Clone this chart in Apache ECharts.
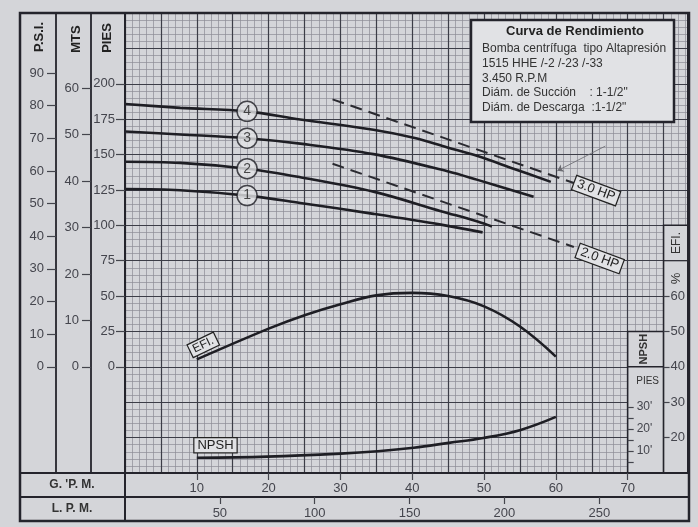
<!DOCTYPE html>
<html><head><meta charset="utf-8">
<script src="https://cdn.jsdelivr.net/npm/echarts@6/dist/echarts.min.js"></script>
<style>html,body{margin:0;padding:0;background:#d4d5d9;}#c{width:698px;height:527px;}</style>
</head><body><div id="c"></div>
<script>
// ---------------- data ----------------
const gpmTicks = [10, 20, 30, 40, 50, 60, 70];
const lpmTicks = [50, 100, 150, 200, 250];
const psiTicks = [0, 10, 20, 30, 40, 50, 60, 70, 80, 90];
const mtsTicks = [0, 10, 20, 30, 40, 50, 60];
const piesTicks = [0, 25, 50, 75, 100, 125, 150, 175, 200];
const efiTicks = [20, 30, 40, 50, 60];
const npshTicks = [5, 10, 15, 20, 25, 30];
const npshLabelTicks = [10, 20, 30];

// head curves: [GPM, PIES]
const curve1 = [[0,125.6],[7.7,124.8],[17,121],[24.4,115.8],[34.6,108.1],[44,100.5],[49.8,95]];
const curve2 = [[0,144.9],[7.7,144.1],[17,140],[24.4,134],[34.6,123.8],[44,110],[49.1,102.7],[51.1,99.2]];
const curve3 = [[0,166.3],[7.7,164.2],[17,161.5],[24.4,157.7],[34.6,150.3],[44.9,138.2],[49.1,132.1],[56.9,120.2]];
const curve4 = [[0,185.7],[7.7,183.0],[17,180.5],[24.4,174.8],[34.6,167.5],[40.2,161.8],[44.9,155.0],[49.1,148.9],[54.1,140],[59.3,130.7]];
const curveNames = ['1', '2', '3', '4'];
const curveLabelGpm = 17;

// power lines: [GPM, PIES]
const hp3 = [[28.9,189.0],[62.5,129.9]];
const hp2 = [[28.9,143.5],[62.5,84.7]];
const hpNames = ['3.0 HP', '2.0 HP'];

// efficiency (%)
const efiGpm = [10, 20, 25, 30, 35, 40, 45, 50, 55, 60];
const efiPct = [42.1, 50.8, 54.6, 57.7, 60.2, 60.9, 60.0, 57.1, 51.4, 42.9];

// NPSH (ft)
const npshGpm = [10, 19.8, 30, 35.2, 40.2, 45.1, 49.9, 55.1, 60];
const npshFt = [6.9, 7.45, 8.8, 9.9, 11.5, 13.7, 15.9, 19.6, 25.5];

// ---------------- layout / scales ----------------
const G = {left: 125, top: 13, width: 563, height: 460};
const X_MAX = 78.4, Y_MIN = -75, Y_MAX = 250;
const FT_PER_PSI = 2.307, FT_PER_M = 3.281, LPM_PER_GPM = 3.785;
const NPSH_MAX = G.height / 2.2;
const EFI_MIN = 40 + Y_MIN * 0.4, EFI_MAX = 40 + Y_MAX * 0.4;
const xPix = g => G.left + g * G.width / X_MAX;
const RIGHT = G.left + G.width;

const FONT = '"Liberation Sans", Arial, sans-serif';
const INK = '#24242c';
const LBL = '#44454d';
const PAPER = '#d4d5d9';
const BOX = '#e1e2e5';
const MAJOR = '#3c3d47';
const MINOR = '#8c8d95';

function hidden(extra) {
  return Object.assign({type: 'value', axisLine: {show: false, onZero: false}, axisTick: {show: false},
    axisLabel: {show: false}, splitLine: {show: false}}, extra);
}
function sideY(pos, offset, min, max, ticks, labels, extra) {
  return Object.assign({
    type: 'value', position: pos, offset: offset, min: min, max: max, z: 6,
    axisLine: {show: true, onZero: false, lineStyle: {color: INK, width: 1.8}},
    axisTick: {show: true, length: 9, customValues: ticks, lineStyle: {color: LBL, width: 1.2}},
    axisLabel: {show: true, customValues: labels || ticks, margin: 12, color: LBL, fontSize: 13, fontFamily: FONT},
    splitLine: {show: false}
  }, extra || {});
}

const lineStyleHead = {color: '#1e1e24', width: 2.6};
function headSeries(data) {
  return {type: 'line', data: data, smooth: 0.35, symbol: 'none', xAxisIndex: 0, yAxisIndex: 0,
    lineStyle: lineStyleHead, z: 4, silent: true};
}

const option = {
  animation: false,
  backgroundColor: PAPER,
  textStyle: {fontFamily: FONT},
  grid: {left: G.left, top: G.top, width: G.width, height: G.height, containLabel: false},
  xAxis: [
    hidden({min: 0, max: X_MAX, interval: 5, z: 1, splitLine: {show: true, lineStyle: {color: MAJOR, width: 1.2}}}),
    hidden({min: 0, max: X_MAX, interval: 1, z: 0, splitLine: {show: true, lineStyle: {color: MINOR, width: 0.7}}}),
    {type: 'value', position: 'bottom', offset: 0, min: 0, max: X_MAX, z: 6,
      axisLine: {show: false, onZero: false},
      axisTick: {show: true, length: 7, customValues: gpmTicks, lineStyle: {color: LBL, width: 1.2}},
      axisLabel: {show: true, customValues: gpmTicks, margin: 9, color: LBL, fontSize: 13},
      splitLine: {show: false}},
    {type: 'value', position: 'bottom', offset: 24, min: 0, max: X_MAX * LPM_PER_GPM, z: 6,
      axisLine: {show: false, onZero: false},
      axisTick: {show: true, length: 7, customValues: lpmTicks, lineStyle: {color: LBL, width: 1.2}},
      axisLabel: {show: true, customValues: lpmTicks, margin: 10, color: LBL, fontSize: 13},
      splitLine: {show: false}}
  ],
  yAxis: [
    hidden({min: Y_MIN, max: Y_MAX, interval: 25, z: 1, splitLine: {show: true, lineStyle: {color: MAJOR, width: 1.2}}}),
    hidden({min: Y_MIN, max: Y_MAX, interval: 5, z: 0, splitLine: {show: true, lineStyle: {color: MINOR, width: 0.7}}}),
    sideY('left', 0, Y_MIN, Y_MAX, piesTicks, piesTicks, {axisLabel: {show: true, customValues: piesTicks, margin: 10, color: LBL, fontSize: 13, fontFamily: FONT}}),
    sideY('left', G.left - 91, Y_MIN / FT_PER_M, Y_MAX / FT_PER_M, mtsTicks),
    sideY('left', G.left - 56, Y_MIN / FT_PER_PSI, Y_MAX / FT_PER_PSI, psiTicks),
    sideY('right', xPix(75) - RIGHT, EFI_MIN, EFI_MAX, efiTicks, efiTicks,
      {axisLine: {show: false, onZero: false}, axisTick: {show: true, length: 6, customValues: efiTicks, lineStyle: {color: LBL, width: 1.2}},
       axisLabel: {show: true, customValues: efiTicks, margin: 7, color: LBL, fontSize: 13, fontFamily: FONT}}),
    sideY('right', xPix(70) - RIGHT, 0, NPSH_MAX, npshTicks, npshLabelTicks,
      {axisLine: {show: false, onZero: false}, axisTick: {show: true, length: 6, customValues: npshTicks, lineStyle: {color: LBL, width: 1.2}},
       axisLabel: {show: true, customValues: npshLabelTicks, margin: 9, color: LBL, fontSize: 12, fontFamily: FONT,
         formatter: v => v + "'"}})
  ],
  series: [
    headSeries(curve1), headSeries(curve2), headSeries(curve3), headSeries(curve4),
    {type: 'scatter', xAxisIndex: 0, yAxisIndex: 0, z: 5, symbol: 'circle', symbolSize: 20, silent: true,
      itemStyle: {color: BOX, borderColor: '#1e1e24', borderWidth: 1.5},
      label: {show: true, position: 'inside', formatter: p => p.data[2], color: '#222', fontSize: 14},
      data: [curve1, curve2, curve3, curve4].map((c, i) => {
        const p = c.find(q => q[0] === curveLabelGpm); return [p[0], p[1], curveNames[i]];
      })},
    {type: 'line', data: hp3, xAxisIndex: 0, yAxisIndex: 0, symbol: 'none', z: 4, silent: true,
      lineStyle: {color: '#2a2a30', width: 2, type: [12, 7]},
      markLine: {silent: true, symbol: ['none', 'arrow'], symbolSize: 6, label: {show: false},
        lineStyle: {color: '#6a6a70', width: 0.8, type: 'solid'},
        data: [[{coord: [66.9, 156]}, {coord: [60.2, 138.5]}]]}},
    {type: 'line', data: hp2, xAxisIndex: 0, yAxisIndex: 0, symbol: 'none', z: 4, silent: true,
      lineStyle: {color: '#2a2a30', width: 2, type: [12, 7]}},
    {type: 'line', data: efiGpm.map((g, i) => [g, efiPct[i]]), xAxisIndex: 0, yAxisIndex: 5,
      smooth: 0.4, symbol: 'none', z: 4, silent: true, lineStyle: lineStyleHead},
    {type: 'line', data: npshGpm.map((g, i) => [g, npshFt[i]]), xAxisIndex: 0, yAxisIndex: 6,
      smooth: 0.4, symbol: 'none', z: 4, silent: true, lineStyle: lineStyleHead}
  ]
};

const chart = echarts.init(document.getElementById('c'));
chart.setOption(option);

// ---------------- decorations positioned through the scales ----------------
const P = (g, v, yi) => chart.convertToPixel({xAxisIndex: 0, yAxisIndex: yi || 0}, [g, v]);
const BOTTOM = G.top + G.height;
const ROW2 = BOTTOM + 24, ROW3 = BOTTOM + 48;
const yPies = v => P(0, v)[1];
const colNx0 = xPix(70), colNx1 = xPix(75);
const gfx = [];
function rect(x, y, w, h, fill, stroke, lw, z) {
  gfx.push({type: 'rect', z: z, silent: true, shape: {x: x, y: y, width: w, height: h},
    style: {fill: fill, stroke: stroke, lineWidth: lw}});
}
function line(x1, y1, x2, y2, lw, z, color) {
  gfx.push({type: 'line', z: z, silent: true, shape: {x1: x1, y1: y1, x2: x2, y2: y2},
    style: {stroke: color || INK, lineWidth: lw}});
}
function text(t, x, y, font, opts) {
  gfx.push(Object.assign({type: 'text', z: 7, silent: true, x: x, y: y,
    style: Object.assign({text: t, font: font, fill: '#222', align: 'center', verticalAlign: 'middle'}, (opts && opts.style) || {})},
    opts && opts.rotation !== undefined ? {rotation: opts.rotation} : {}));
}

// NPSH column and EFI column covers
rect(colNx0, yPies(25), colNx1 - colNx0, BOTTOM - yPies(25), PAPER, INK, 1.5, 2);
line(colNx0, yPies(0), colNx1, yPies(0), 1.5, 3);
rect(colNx1, yPies(100), RIGHT - colNx1, BOTTOM - yPies(100), PAPER, INK, 1.5, 2);
line(colNx1, yPies(75), RIGHT, yPies(75), 1.2, 3);
// title box
rect(471, 20, 203, 102, BOX, INK, 2.5, 2);
// frames
rect(G.left, G.top, G.width, G.height, null, INK, 2, 5);
rect(20, G.top, RIGHT + 1 - 20, ROW3 - G.top, null, INK, 2.5, 5);
line(20, ROW2, RIGHT + 1, ROW2, 2, 5);
line(20, BOTTOM, G.left, BOTTOM, 2, 5);
line(G.left, BOTTOM, G.left, ROW3, 2, 5);

// title texts
text('Curva de Rendimiento', 575, 31, 'bold 13px ' + FONT);
const infoLines = ['Bomba centrífuga  tipo Altapresión', '1515 HHE /-2 /-23 /-33', '3.450 R.P.M',
  'Diám. de Succión    : 1-1/2"', 'Diám. de Descarga  :1-1/2"'];
infoLines.forEach((t, i) => text(t, 482, 49 + i * 14.6, '12px ' + FONT, {style: {align: 'left', fill: '#333'}}));

// column headers
text('P.S.I.', 39, 37, 'bold 13px ' + FONT, {rotation: Math.PI / 2});
text('MTS', 76, 39, 'bold 13px ' + FONT, {rotation: Math.PI / 2});
text('PIES', 107, 38, 'bold 13px ' + FONT, {rotation: Math.PI / 2});
text('G. \'P. M.', 72, BOTTOM + 12, 'bold 12px ' + FONT, {style: {fill: '#333'}});
text('L. P. M.', 72, ROW2 + 12, 'bold 12px ' + FONT, {style: {fill: '#333'}});
const efiColX = (colNx1 + RIGHT) / 2 + 1;
text('EFI.', efiColX, yPies(87.5), '12px ' + FONT, {rotation: Math.PI / 2, style: {fill: '#333'}});
text('%', efiColX, yPies(62.5), '13px ' + FONT, {rotation: Math.PI / 2, style: {fill: '#333'}});
text('NPSH', (colNx0 + colNx1) / 2 - 2, yPies(12.5), 'bold 11px ' + FONT, {rotation: Math.PI / 2, style: {fill: '#333'}});
text('PIES', (colNx0 + colNx1) / 2 + 2, yPies(-10.5), '10px ' + FONT, {style: {fill: '#333'}});

// curve annotations
const boxStyle = {backgroundColor: BOX, borderColor: '#222', borderWidth: 1.2, padding: [1, 3, 0, 3], fill: '#222'};
const hpAngle = (seg) => {
  const a = P(seg[0][0], seg[0][1]), b = P(seg[1][0], seg[1][1]);
  return -Math.atan2(b[1] - a[1], b[0] - a[0]);
};
let p = P(65.6, 124.5); text(hpNames[0], p[0], p[1], '13px ' + FONT, {rotation: hpAngle(hp3) - 0.02, style: boxStyle});
p = P(66.1, 76.5); text(hpNames[1], p[0], p[1], '13px ' + FONT, {rotation: hpAngle(hp2) - 0.02, style: boxStyle});
p = P(10.9, 46.2, 5); text('EFI.', p[0], p[1], '12px ' + FONT, {rotation: 0.45, style: boxStyle});
p = P(12.6, 12.6, 6); text('NPSH', p[0], p[1], '13px ' + FONT, {style: boxStyle});

chart.setOption({graphic: {elements: gfx}});
</script></body></html>
